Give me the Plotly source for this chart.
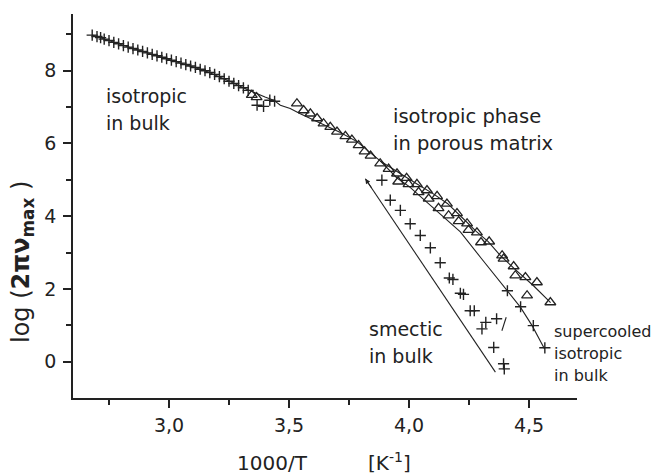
import plotly.graph_objects as go

# ---- isotropic phase in bulk (crosses) ----
iso_bulk_x = [2.68, 2.70, 2.715, 2.73, 2.75, 2.77, 2.79, 2.81, 2.83, 2.85, 2.87, 2.89,
              2.91, 2.93, 2.95, 2.97, 2.99, 3.01, 3.03, 3.05, 3.07, 3.09, 3.11, 3.13,
              3.15, 3.17, 3.19, 3.21, 3.23, 3.25, 3.27, 3.29, 3.31, 3.33,
              3.367, 3.394, 3.42, 3.44]
iso_bulk_y = [8.98, 8.94, 8.91, 8.87, 8.83, 8.78, 8.74, 8.69, 8.65, 8.61, 8.57, 8.53,
              8.49, 8.45, 8.41, 8.37, 8.33, 8.29, 8.25, 8.21, 8.17, 8.13, 8.09, 8.04,
              8.00, 7.95, 7.90, 7.84, 7.78, 7.71, 7.65, 7.59, 7.53, 7.46,
              7.05, 7.02, 7.19, 7.16]

# ---- isotropic phase in porous matrix (triangles), two branches ----
pore_x = [3.345, 3.365, 3.533, 3.561, 3.589, 3.617, 3.644, 3.672, 3.700, 3.735,
          3.762, 3.790, 3.815, 3.840, 3.880, 3.915, 3.950, 3.990, 4.033, 4.075,
          4.117, 4.158, 4.200, 4.242, 4.283, 4.334, 4.388, 4.436, 4.485, 4.533, 4.589]
pore_y = [7.33, 7.27, 7.10, 6.91, 6.82, 6.69, 6.55, 6.45, 6.32, 6.20,
          6.10, 5.95, 5.78, 5.66, 5.45, 5.30, 5.17, 5.05, 4.88, 4.71,
          4.55, 4.34, 4.08, 3.80, 3.55, 3.30, 2.92, 2.62, 2.32, 2.18, 1.63]

pore2_x = [3.955, 3.998, 4.040, 4.082, 4.123, 4.165, 4.207, 4.248, 4.300,
           4.394, 4.443, 4.492]
pore2_y = [4.95, 4.88, 4.66, 4.48, 4.22, 4.02, 3.86, 3.62, 3.28,
           2.83, 2.37, 1.82]

# ---- smectic phase in bulk (crosses) ----
smec_x = [3.887, 3.922, 3.964, 4.005, 4.047, 4.089, 4.130, 4.168, 4.183, 4.214,
          4.227, 4.255, 4.272, 4.304, 4.320, 4.365, 4.353, 4.394, 4.397]
smec_y = [4.99, 4.44, 4.16, 3.79, 3.47, 3.13, 2.72, 2.30, 2.26, 1.88,
          1.85, 1.40, 1.40, 0.90, 1.08, 1.18, 0.39, -0.06, -0.20]

# ---- supercooled isotropic phase in bulk (crosses) ----
super_x = [4.410, 4.465, 4.518, 4.566]
super_y = [1.95, 1.51, 0.99, 0.38]

# ---- fitted curves ----
fit_iso_x = [2.68, 2.85, 3.00, 3.15, 3.25, 3.33, 3.40, 3.436, 3.464, 3.505, 3.547,
             3.63, 3.714, 3.783, 3.84, 3.88]
fit_iso_y = [8.98, 8.61, 8.31, 8.00, 7.72, 7.47, 7.28, 7.19, 7.05, 6.96, 6.82,
             6.57, 6.30, 6.05, 5.75, 5.52]

fit_pore_x = [3.88, 3.95, 4.03, 4.10, 4.16, 4.22, 4.28, 4.33, 4.38, 4.44, 4.52, 4.59]
fit_pore_y = [5.52, 5.22, 4.90, 4.62, 4.35, 3.97, 3.58, 3.30, 2.92, 2.55, 2.08, 1.62]

fit_super_x = [3.88, 3.95, 4.00, 4.09, 4.15, 4.214, 4.30, 4.36, 4.408,
               4.464, 4.513, 4.565]
fit_super_y = [5.52, 5.05, 4.82, 4.30, 3.95, 3.57, 2.85, 2.35, 1.98,
               1.50, 0.99, 0.35]

fit_smec_x = [3.818, 4.36]
fit_smec_y = [5.03, -0.29]

# short stray stroke next to the smectic points
stroke_x = [4.387, 4.405]
stroke_y = [0.85, 1.22]

# ---- axes ----
x_range = [2.6, 4.7]
y_range = [-1.0, 9.56]
x_ticks = [3.0, 3.5, 4.0, 4.5]
x_ticklabels = ["3,0", "3,5", "4,0", "4,5"]
y_ticks = [0, 2, 4, 6, 8]
y_ticklabels = ["0", "2", "4", "6", "8"]

INK = "#222222"
FONT = "DejaVu Sans"

fig = go.Figure()

cross = dict(symbol="cross-thin-open", size=8, line=dict(width=1.4, color=INK), color=INK)
tri = dict(symbol="triangle-up-open", size=9.5, line=dict(width=1.3, color=INK), color=INK)
thin = dict(color=INK, width=1.1)

for xs, ys in [(fit_iso_x, fit_iso_y), (fit_pore_x, fit_pore_y),
               (fit_super_x, fit_super_y), (fit_smec_x, fit_smec_y),
               (stroke_x, stroke_y)]:
    fig.add_trace(go.Scatter(x=xs, y=ys, mode="lines", line=thin,
                             showlegend=False, hoverinfo="skip"))

fig.add_trace(go.Scatter(x=iso_bulk_x, y=iso_bulk_y, mode="markers", marker=cross,
                         showlegend=False))
fig.add_trace(go.Scatter(x=pore_x, y=pore_y, mode="markers", marker=tri,
                         showlegend=False))
fig.add_trace(go.Scatter(x=pore2_x, y=pore2_y, mode="markers", marker=tri,
                         showlegend=False))
fig.add_trace(go.Scatter(x=smec_x, y=smec_y, mode="markers", marker=cross,
                         showlegend=False))
fig.add_trace(go.Scatter(x=super_x, y=super_y, mode="markers", marker=cross,
                         showlegend=False))

# small arrowhead at the upper end of the smectic line
fig.add_annotation(x=fit_smec_x[0], y=fit_smec_y[0], ax=fit_smec_x[0] + 0.03,
                   ay=fit_smec_y[0] - 0.29, axref="x", ayref="y", xref="x", yref="y",
                   showarrow=True, arrowhead=2, arrowsize=0.9, arrowwidth=1.1,
                   arrowcolor=INK, text="")

# ---- in-plot labels ----
def label(text, x, y, size=19):
    fig.add_annotation(text=text, x=x, y=y, xref="x", yref="y", xanchor="left",
                       yanchor="middle", showarrow=False,
                       font=dict(family=FONT, size=size, color=INK))

label("isotropic", 2.73, 7.30)
label("in bulk", 2.73, 6.56)
label("isotropic phase", 3.925, 6.73, 19.5)
label("in porous matrix", 3.925, 5.99, 19.5)
label("smectic", 3.824, 0.90)
label("in bulk", 3.824, 0.165)
label("supercooled", 4.595, 0.82, 16)
label("isotropic", 4.595, 0.23, 16)
label("in bulk", 4.595, -0.37, 16)

# ---- axis titles ----
L, R, T, B = 73, 77, 14, 76
W, H = 654, 474
pw, ph = W - L - R, H - T - B


def paper(px, py):
    return (px - L) / pw, (H - B - py) / ph


def title(text, px, py, size, angle=0):
    tx, ty = paper(px, py)
    fig.add_annotation(text=text, x=tx, y=ty, xref="paper", yref="paper",
                       xanchor="center", yanchor="middle", textangle=angle,
                       showarrow=False, font=dict(family=FONT, size=size, color=INK))


title("1000/T", 272.6, 463, 20)
title("[K<sup>-1</sup>]", 389, 462, 20)
title("log (<b>2πν</b><sub><b>max</b></sub> )", 22, 262, 24, -90)

axis_common = dict(showgrid=False, zeroline=False, showline=True, linecolor=INK,
                   linewidth=1.5, ticks="outside", ticklen=8, tickwidth=1.5,
                   tickcolor=INK, tickfont=dict(family=FONT, size=19, color=INK),
                   mirror=False)

fig.update_xaxes(range=x_range, tickvals=x_ticks, ticktext=x_ticklabels,
                 minor=dict(tickvals=[2.75, 3.25, 3.75, 4.25], ticklen=5,
                            tickwidth=1.5, tickcolor=INK, ticks="outside"),
                 ticklabelstandoff=1, **axis_common)
fig.update_yaxes(range=y_range, tickvals=y_ticks, ticktext=y_ticklabels,
                 minor=dict(tickvals=[1, 3, 5, 7, 9], ticklen=5,
                            tickwidth=1.5, tickcolor=INK, ticks="outside"),
                 ticklabelstandoff=3, **axis_common)

fig.update_layout(width=W, height=H, margin=dict(l=L, r=R, t=T, b=B),
                  plot_bgcolor="white", paper_bgcolor="white",
                  font=dict(family=FONT, color=INK))

fig.write_html("out.html")
